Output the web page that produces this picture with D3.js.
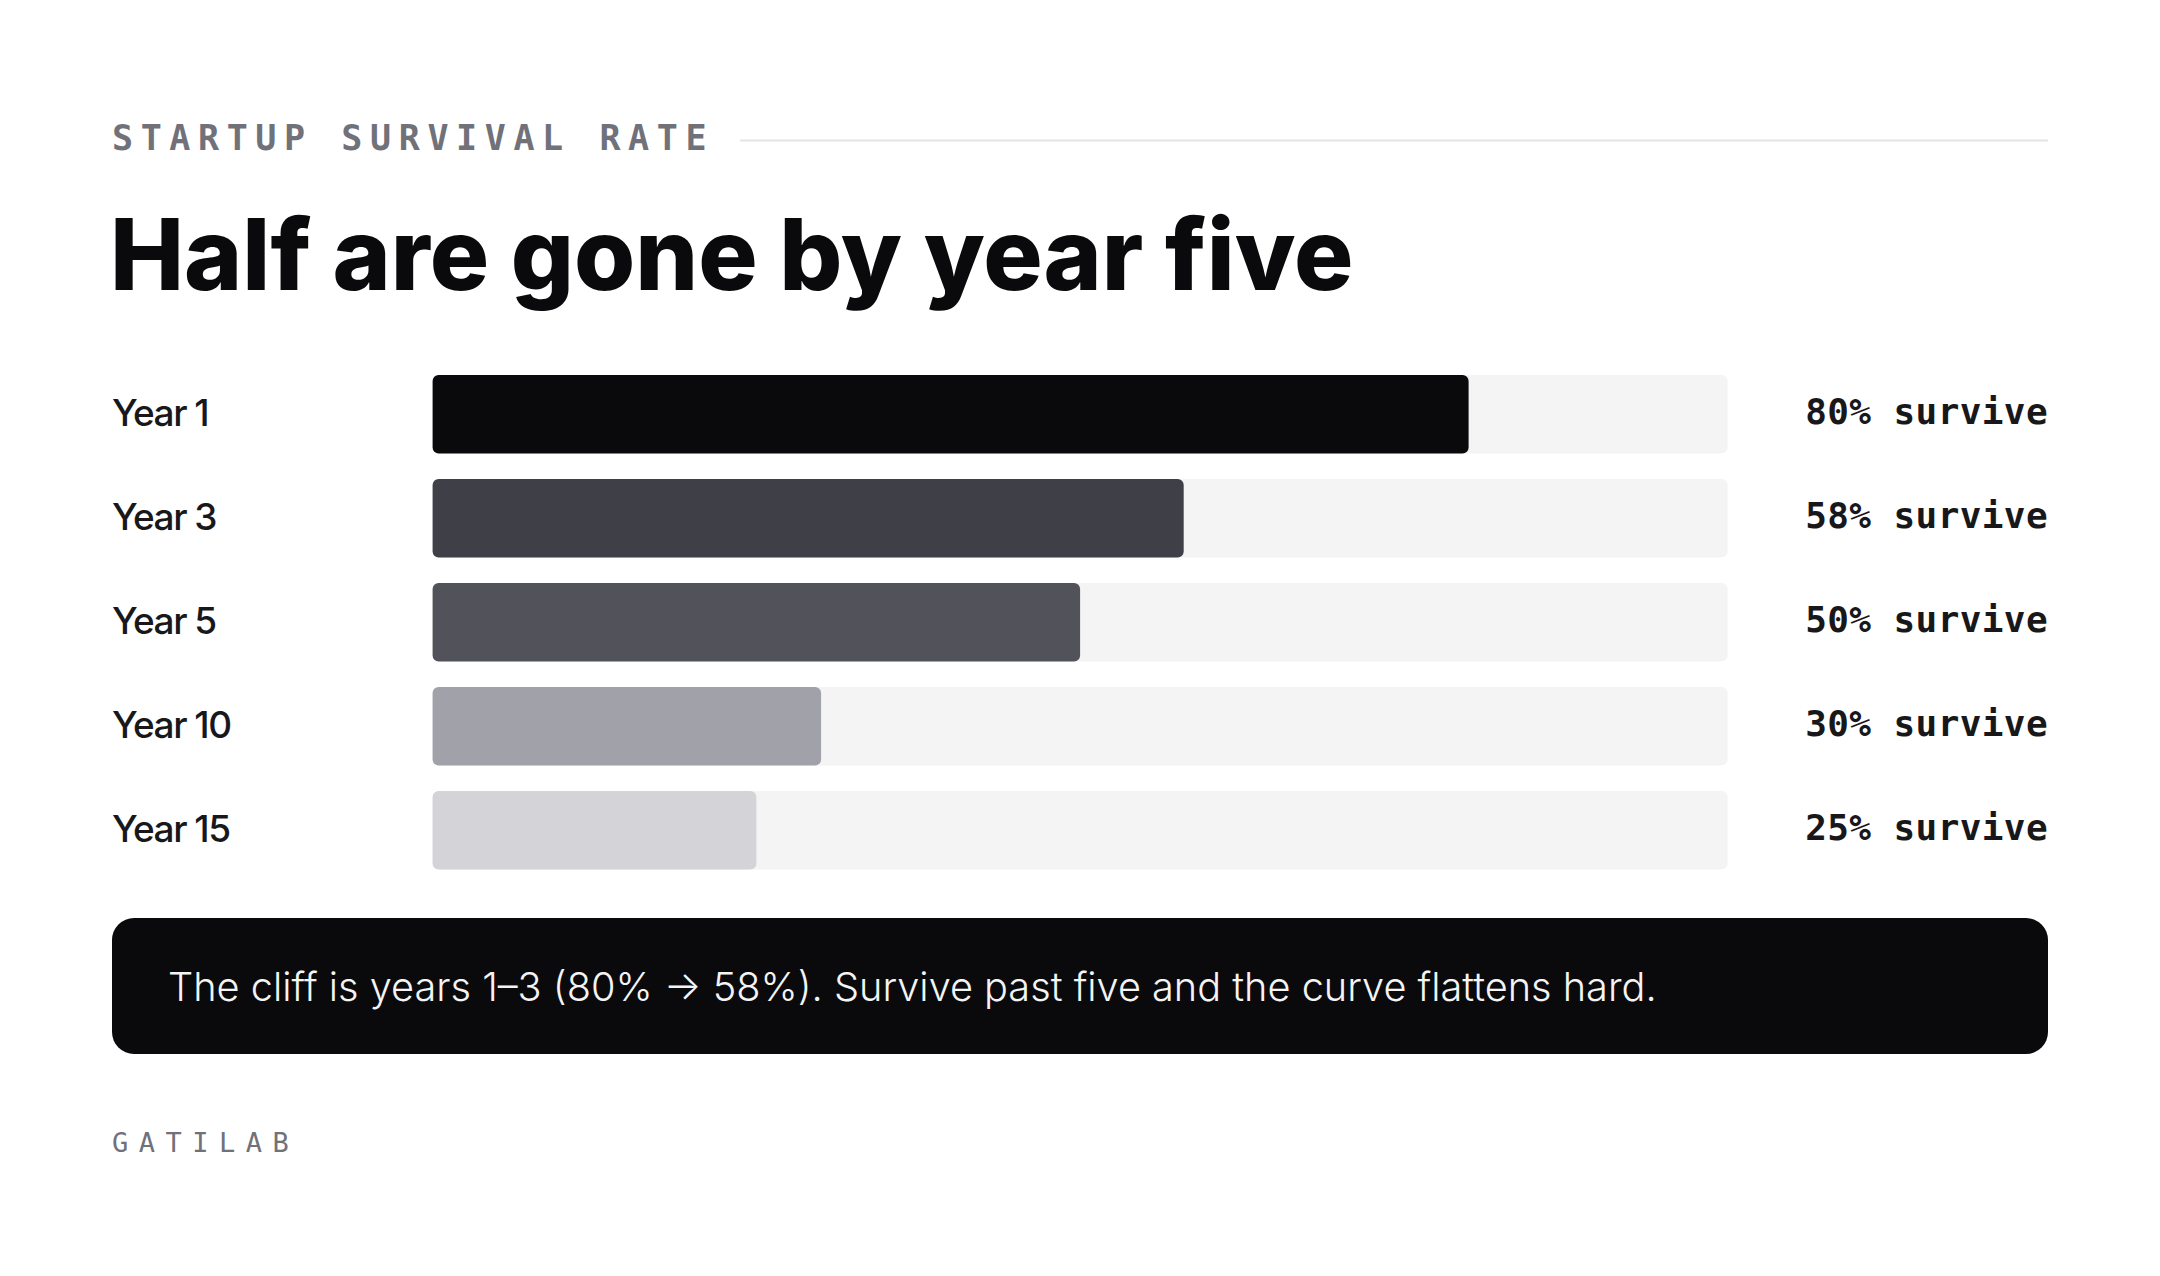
<!DOCTYPE html>
<html>
<head>
<meta charset="utf-8">
<script src="https://cdn.jsdelivr.net/npm/d3@7"></script>
<style>
  html, body { margin: 0; padding: 0; background: #ffffff; }
  svg { display: block; }
</style>
</head>
<body>
<div id="chart"></div>
<script>
// data
const years = ["Year 1", "Year 3", "Year 5", "Year 10", "Year 15"];
const survival = [80, 58, 50, 30, 25];
const barColors = ["#0a0a0c", "#3f3f48", "#52525b", "#a1a1aa", "#d4d4d8"];

const eyebrow = "STARTUP SURVIVAL RATE";
const title = "Half are gone by year five";
const note = "The cliff is years 1\u20133 (80% \u2192 58%). Survive past five and the curve flattens hard.";
const brand = "GATILAB";

const W = 2160, H = 1276;
const margin = {left: 112, right: 112};

const svg = d3.select("#chart").append("svg")
    .attr("width", W)
    .attr("height", H);

svg.append("rect").attr("width", W).attr("height", H).attr("fill", "#ffffff");

// eyebrow + rule
svg.append("text")
    .attr("x", margin.left)
    .attr("y", 150)
    .attr("fill", "#71717a")
    .attr("font-family", "'DejaVu Sans Mono', monospace")
    .attr("font-weight", 700)
    .attr("font-size", 35)
    .attr("letter-spacing", "7.6px")
    .text(eyebrow);

svg.append("line")
    .attr("x1", 740)
    .attr("x2", W - margin.right)
    .attr("y1", 140.5)
    .attr("y2", 140.5)
    .attr("stroke", "#e4e4e7")
    .attr("stroke-width", 2);

// title
svg.append("text")
    .attr("x", margin.left - 2)
    .attr("y", 290)
    .attr("fill", "#0a0a0c")
    .attr("font-family", "Inter, sans-serif")
    .attr("font-weight", 800)
    .attr("font-size", 99)
    .attr("letter-spacing", "0px")
    .text(title);

// scales
const rowStep = 104, barH = 78.5;
const x = d3.scaleLinear()
    .domain([0, 100])
    .range([432.6, 1727.6]);

const y = d3.scaleBand()
    .domain(years)
    .range([375, 375 + rowStep * (years.length - 1) + barH])
    .paddingInner((rowStep - barH) / rowStep)
    .paddingOuter(0);

const rows = svg.append("g").selectAll("g")
    .data(years)
    .join("g");

// track
rows.append("rect")
    .attr("x", x(0))
    .attr("y", d => y(d))
    .attr("width", x(100) - x(0))
    .attr("height", y.bandwidth())
    .attr("rx", 6)
    .attr("fill", "#f4f4f5");

// bar
rows.append("rect")
    .attr("x", x(0))
    .attr("y", d => y(d))
    .attr("width", (d, i) => x(survival[i]) - x(0))
    .attr("height", y.bandwidth())
    .attr("rx", 6)
    .attr("fill", (d, i) => barColors[i]);

// row label
rows.append("text")
    .attr("x", margin.left)
    .attr("y", d => y(d) + y.bandwidth() / 2 + 12)
    .attr("fill", "#18181b")
    .attr("font-family", "Inter, sans-serif")
    .attr("font-weight", 500)
    .attr("font-size", 37)
    .attr("letter-spacing", "-1.5px")
    .text(d => d);

// value label
rows.append("text")
    .attr("x", W - margin.right)
    .attr("y", d => y(d) + y.bandwidth() / 2 + 10)
    .attr("text-anchor", "end")
    .attr("fill", "#18181b")
    .attr("font-family", "'DejaVu Sans Mono', monospace")
    .attr("font-weight", 700)
    .attr("font-size", 36)
    .attr("letter-spacing", "0.4px")
    .text((d, i) => survival[i] + "% survive");

// callout
svg.append("rect")
    .attr("x", margin.left)
    .attr("y", 918)
    .attr("width", W - margin.left - margin.right)
    .attr("height", 136)
    .attr("rx", 22)
    .attr("fill", "#0a0a0c");

svg.append("text")
    .attr("x", 168)
    .attr("y", 1001)
    .attr("fill", "#f4f4f5")
    .attr("font-family", "Inter, sans-serif")
    .attr("font-weight", 300)
    .attr("font-size", 39.7)
    .text(note);

// footer
svg.append("text")
    .attr("x", margin.left)
    .attr("y", 1152)
    .attr("fill", "#71717a")
    .attr("font-family", "'DejaVu Sans Mono', monospace")
    .attr("font-size", 27)
    .attr("letter-spacing", "10.5px")
    .text(brand);
</script>
</body>
</html>
